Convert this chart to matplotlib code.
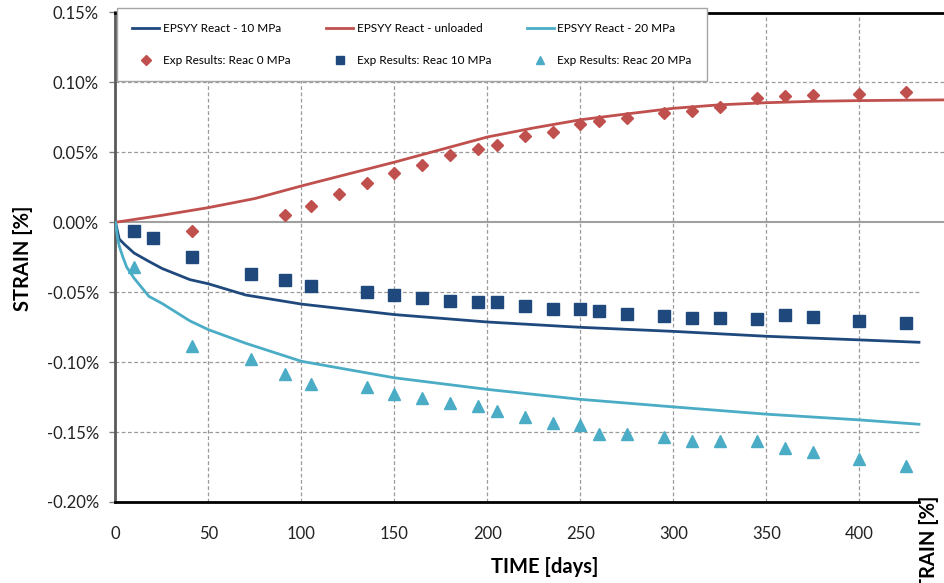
import numpy as np
import matplotlib
matplotlib.use("Agg")
import matplotlib.pyplot as plt
from matplotlib.ticker import FuncFormatter

plt.rcParams['font.family'] = ['Lato', 'DejaVu Sans']

# model curves (days, strain %)
unl_days = [0, 10, 25, 50, 75, 100, 125, 150, 175, 200, 225, 250, 275, 300, 325, 350, 375, 400, 425, 446]
unl_strain = [0, 0.002, 0.005, 0.0105, 0.017, 0.026, 0.0345, 0.043, 0.052, 0.061, 0.0675, 0.0733,
              0.0775, 0.0815, 0.084, 0.0855, 0.0865, 0.087, 0.0873, 0.0875]

r10_days = [0, 2, 5, 10, 18, 25, 40, 50, 70, 100, 150, 200, 250, 300, 350, 400, 432]
r10_strain = [0, -0.012, -0.016, -0.022, -0.028, -0.033, -0.041, -0.044, -0.052, -0.0585, -0.066,
              -0.0713, -0.0751, -0.078, -0.0815, -0.0841, -0.0858]

r20_days = [0, 1, 2, 4, 6, 10, 18, 25, 40, 50, 70, 100, 150, 200, 250, 300, 350, 400, 432]
r20_strain = [0, -0.010, -0.017, -0.025, -0.032, -0.040, -0.053, -0.058, -0.0705, -0.0768, -0.0865,
              -0.0994, -0.1112, -0.1195, -0.1266, -0.132, -0.1372, -0.1413, -0.1444]

# experimental results
exp0_days = [41, 91, 105, 120, 135, 150, 165, 180, 195, 205, 220, 235, 250, 260, 275, 295, 310, 325,
             345, 360, 375, 400, 425]
exp0_strain = [-0.0062, 0.0052, 0.0119, 0.0199, 0.0282, 0.0349, 0.0413, 0.0479, 0.0526, 0.0555, 0.0614,
               0.0645, 0.0706, 0.0725, 0.0745, 0.0784, 0.0797, 0.0825, 0.0891, 0.0903, 0.0910, 0.0920, 0.0932]

exp10_days = [10, 20, 41, 73, 91, 105, 135, 150, 165, 180, 195, 205, 220, 235, 250, 260, 275, 295, 310,
              325, 345, 360, 375, 400, 425]
exp10_strain = [-0.0059, -0.0114, -0.0247, -0.0370, -0.0410, -0.0455, -0.0496, -0.0519, -0.0543, -0.0560,
                -0.0571, -0.0571, -0.0602, -0.0621, -0.0621, -0.0631, -0.0656, -0.0669, -0.0683, -0.0683,
                -0.0688, -0.0666, -0.0676, -0.0706, -0.0718]

exp20_days = [10, 41, 73, 91, 105, 135, 150, 165, 180, 195, 205, 220, 235, 250, 260, 275, 295, 310, 325,
              345, 360, 375, 400, 425]
exp20_strain = [-0.0318, -0.0887, -0.0981, -0.1086, -0.1157, -0.1181, -0.1230, -0.1257, -0.1290, -0.1316,
                -0.1351, -0.1394, -0.1437, -0.1453, -0.1515, -0.1513, -0.1534, -0.1565, -0.1565, -0.1565,
                -0.1614, -0.1641, -0.1693, -0.1745]

xticks = [0, 50, 100, 150, 200, 250, 300, 350, 400]
yticks = [-0.20, -0.15, -0.10, -0.05, 0.0, 0.05, 0.10, 0.15]

c_blue = '#1F497D'
c_red = '#C0504D'
c_teal = '#4BACC6'
grid_c = '#9A9A9A'

fig = plt.figure(figsize=(9.45, 5.83), dpi=100)
ax = fig.add_axes([115.5 / 945, 1 - 502 / 583, 1 - 115.5 / 945, (502 - 12.5) / 583])
xmax = 446
plot_end = 432
ax.set_xlim(0, xmax)
ax.set_ylim(-0.20, 0.15)

# grid (the lower part stops at the plot end, upper part runs to the edge)
dash = (0, (3, 2))
for yv in [0.05, 0.10]:
    ax.hlines(yv, 0, xmax, colors=grid_c, linestyles=dash, lw=0.9, zorder=1)
for yv in [-0.05, -0.10, -0.15]:
    ax.hlines(yv, 0, plot_end, colors=grid_c, linestyles=dash, lw=0.9, zorder=1)
for xv in xticks[1:]:
    ax.vlines(xv, -0.20, 0.15, colors=grid_c, linestyles=dash, lw=0.9, zorder=1)
ax.axhline(0, color='#A0A0A0', lw=1.5, zorder=1.5)

l10, = ax.plot(r10_days, r10_strain, color=c_blue, lw=2, zorder=3)
lun, = ax.plot(unl_days, unl_strain, color=c_red, lw=2, zorder=3)
l20, = ax.plot(r20_days, r20_strain, color=c_teal, lw=2, zorder=3)

m0, = ax.plot(exp0_days, exp0_strain, 'D', color=c_red, ms=6.5, ls='none', zorder=4)
m10, = ax.plot(exp10_days, exp10_strain, 's', color=c_blue, ms=8, ls='none', zorder=4)
m20, = ax.plot(exp20_days, exp20_strain, '^', color=c_teal, ms=8.5, ls='none', zorder=4)

ax.spines['right'].set_visible(False)
ax.spines['left'].set_color('#595959')
ax.spines['left'].set_linewidth(2)
ax.spines['bottom'].set_color('black')
ax.spines['bottom'].set_linewidth(2)
ax.spines['bottom'].set_bounds(0, plot_end)
ax.spines['top'].set_color('black')
ax.spines['top'].set_linewidth(2)

ax.set_xticks(xticks)
ax.set_yticks(yticks)
ax.yaxis.set_major_formatter(FuncFormatter(lambda v, p: f"{abs(v):.2f}%" if abs(v) < 1e-9 else f"{v:.2f}%"))
ax.tick_params(axis='x', length=0, pad=17, labelsize=12, colors='#222222')
ax.tick_params(axis='y', length=4, width=1, color='#808080', pad=8, labelsize=12, labelcolor='#222222')

ax.set_xlabel('TIME [days]', fontsize=14.5, fontweight='bold')
ax.xaxis.set_label_coords(0.518, -0.112)
ax.set_ylabel('STRAIN [%]', fontsize=14.5, fontweight='bold')
ax.yaxis.set_label_coords(-0.0995, 0.498)

# cut-off label of a secondary axis at the right edge
fig.text(929 / 945, 1 - 548 / 583, 'STRAIN [%]', rotation=90, ha='center', va='center',
         fontsize=14.5, fontweight='bold')

handles = [l10, m0, lun, m10, l20, m20]
labels = ['EPSYY React - 10 MPa', 'Exp Results: Reac 0 MPa', 'EPSYY React - unloaded',
          'Exp Results: Reac 10 MPa', 'EPSYY React - 20 MPa', 'Exp Results: Reac 20 MPa']
leg = ax.legend(handles, labels, ncol=3, loc='upper left', bbox_to_anchor=(117 / 945, 1 - 8 / 583),
                bbox_transform=fig.transFigure, borderaxespad=0, fontsize=8.5, frameon=True,
                fancybox=False, edgecolor='#A6A6A6', facecolor='white', framealpha=1,
                handlelength=2.3, handletextpad=0.3, columnspacing=3.0, labelspacing=1.75,
                borderpad=1.3, markerscale=0.75)
leg.get_frame().set_linewidth(1)
leg.set_zorder(10)

fig.savefig('out.png', dpi=100)
